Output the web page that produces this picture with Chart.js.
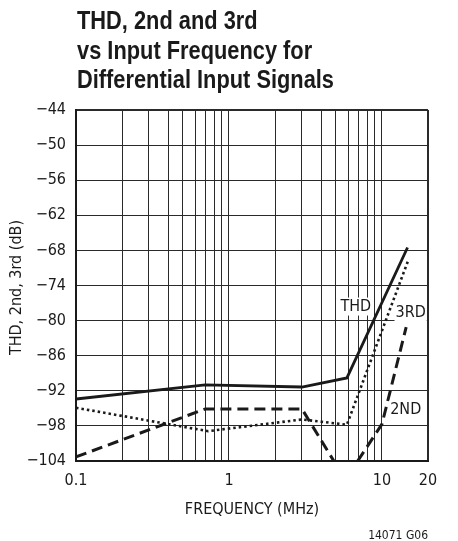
<!DOCTYPE html>
<html>
<head>
<meta charset="utf-8">
<script src="https://cdn.jsdelivr.net/npm/chart.js@4.4.1/dist/chart.umd.min.js"></script>
<style>
    html, body { margin: 0; padding: 0; background: #fff; }
    #wrap { width: 458px; height: 541px; }
</style>
</head>
<body>
<div id="wrap"><canvas id="thdChart"></canvas></div>
<script>
// THD, 2nd and 3rd harmonic vs input frequency
const thdFreq = [0.1, 0.7, 3.0, 5.9, 14.7];
const thdDb = [-93.4, -91.0, -91.35, -89.8, -67.5];

const thirdFreq = [0.1, 0.73, 3.0, 5.9, 14.8];
const thirdDb = [-94.9, -98.9, -96.9, -97.8, -69.8];

const secondFreq = [0.1, 0.7, 3.0, 5.76, 10.0, 14.4];
const secondDb = [-103.3, -95.1, -95.1, -107.2, -97.7, -81.1];

// axes
const xGridValues = [0.1, 0.2, 0.3, 0.4, 0.5, 0.6, 0.7, 0.8, 0.9, 1, 2, 3, 4, 5, 6, 7, 8, 9, 10, 20];
const xTickLabels = [0.1, 1, 10, 20];
const yMin = -104;
const yMax = -44;
const yStep = 6;

// curve labels, placed in data coordinates
const curveLabels = [
    { text: 'THD', freq: 6.75, db: -77.6 },
    { text: '3RD', freq: 15.4, db: -78.7 },
    { text: '2ND', freq: 14.3, db: -95.2 }
];

const titleLines = ['THD, 2nd and 3rd', 'vs Input Frequency for', 'Differential Input Signals'];

const NARROW = '"DejaVu Sans Condensed", "Liberation Sans", sans-serif';
const INK = '#1a1a1a';

function toPoints(xs, ys) {
    return xs.map((x, i) => ({ x: x, y: ys[i] }));
}

const textPlugin = {
    id: 'textPlugin',
    afterDatasetsDraw(chart) {
        const ctx = chart.ctx;
        const xs = chart.scales.x;
        const ys = chart.scales.y;
        ctx.save();
        ctx.font = '16px ' + NARROW;
        ctx.textAlign = 'center';
        ctx.textBaseline = 'middle';
        curveLabels.forEach(l => {
            const px = xs.getPixelForValue(l.freq);
            const py = ys.getPixelForValue(l.db);
            const w = ctx.measureText(l.text).width;
            ctx.fillStyle = '#fff';
            ctx.fillRect(px - w / 2 - 1, py - 9, w + 2, 18);
            ctx.fillStyle = INK;
            ctx.fillText(l.text, px, py);
        });
        ctx.restore();
    },
    afterDraw(chart) {
        const ctx = chart.ctx;
        const area = chart.chartArea;
        ctx.save();
        ctx.fillStyle = INK;

        // title: condensed bold, squeezed to the reference width
        ctx.font = 'bold 26px "Liberation Sans", sans-serif';
        ctx.textAlign = 'left';
        ctx.textBaseline = 'alphabetic';
        const widest = Math.max(...titleLines.map(t => ctx.measureText(t).width));
        const squeeze = 257 / widest;
        titleLines.forEach((t, i) => {
            ctx.save();
            ctx.translate(area.left + 1, 29 + i * 29.5);
            ctx.scale(squeeze, 1);
            ctx.fillText(t, 0, 0);
            ctx.restore();
        });

        // axis titles
        ctx.font = '16px ' + NARROW;
        ctx.textAlign = 'center';
        ctx.textBaseline = 'middle';
        ctx.fillText('FREQUENCY (MHz)', (area.left + area.right) / 2, 510);
        ctx.save();
        ctx.translate(17, (area.top + area.bottom) / 2 + 2);
        ctx.rotate(-Math.PI / 2);
        ctx.fillText('THD, 2nd, 3rd (dB)', 0, 0);
        ctx.restore();

        // figure code
        ctx.font = '12px ' + NARROW;
        ctx.textAlign = 'right';
        ctx.textBaseline = 'alphabetic';
        ctx.fillText('14071 G06', area.right, 539);
        ctx.restore();
    }
};

const chart = new Chart(document.getElementById('thdChart'), {
    type: 'line',
    data: {
        datasets: [
            {
                label: 'THD',
                data: toPoints(thdFreq, thdDb),
                borderColor: INK,
                borderWidth: 2.8,
                pointRadius: 0,
                tension: 0
            },
            {
                label: '3RD',
                data: toPoints(thirdFreq, thirdDb),
                borderColor: INK,
                borderWidth: 2.6,
                borderDash: [2.5, 3],
                pointRadius: 0,
                tension: 0
            },
            {
                label: '2ND',
                data: toPoints(secondFreq, secondDb),
                borderColor: INK,
                borderWidth: 3,
                borderDash: [11, 6],
                pointRadius: 0,
                tension: 0
            }
        ]
    },
    options: {
        responsive: true,
        maintainAspectRatio: false,
        animation: false,
        layout: { padding: { top: 110, right: 30, left: 0, bottom: 0 } },
        plugins: {
            legend: { display: false },
            tooltip: { enabled: false }
        },
        scales: {
            x: {
                type: 'logarithmic',
                min: 0.1,
                max: 20,
                afterBuildTicks: scale => {
                    scale.ticks = xGridValues.map(v => ({ value: v }));
                },
                afterFit: scale => { scale.height = 80; },
                ticks: {
                    autoSkip: false,
                    maxRotation: 0,
                    padding: 10,
                    color: INK,
                    font: { family: NARROW, size: 16 },
                    callback: value => xTickLabels.some(t => Math.abs(t - value) < 1e-9) ? String(value) : ''
                },
                grid: {
                    drawTicks: false,
                    color: '#2a2a2a',
                    lineWidth: c => (c.tick && c.tick.value === 20) ? 2 : 1
                },
                border: { display: true, color: INK, width: 2 }
            },
            y: {
                min: yMin,
                max: yMax,
                afterFit: scale => { scale.width = 76; },
                ticks: {
                    stepSize: yStep,
                    padding: 10,
                    color: INK,
                    font: { family: NARROW, size: 16 },
                    callback: value => '\u2212' + Math.abs(value)
                },
                grid: {
                    drawTicks: false,
                    color: '#2a2a2a',
                    lineWidth: c => (c.tick && c.tick.value === yMax) ? 2 : 1
                },
                border: { display: true, color: INK, width: 2 }
            }
        }
    },
    plugins: [textPlugin]
});
</script>
</body>
</html>
